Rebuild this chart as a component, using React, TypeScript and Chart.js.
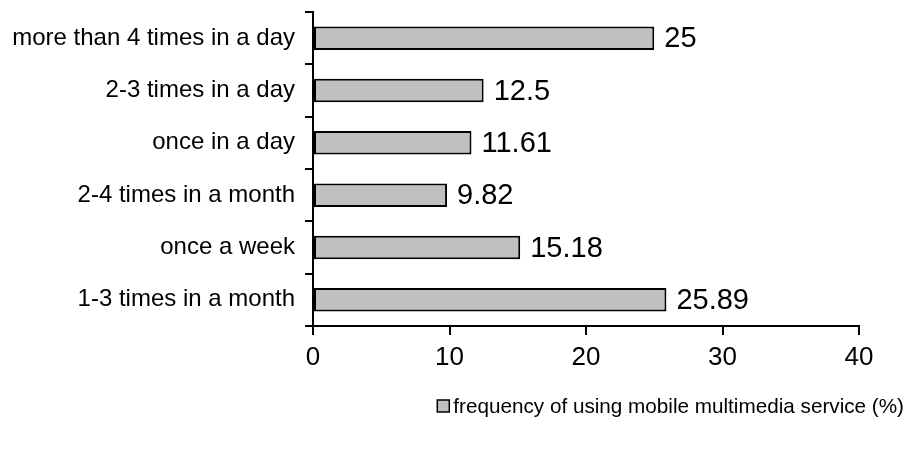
import React, { useEffect, useRef } from "react";
import { Chart, registerables } from "chart.js";

Chart.register(...registerables);

const categories = [
  "more than 4 times in a day",
  "2-3 times in a day",
  "once in a day",
  "2-4 times in a month",
  "once a week",
  "1-3 times in a month",
];
const values = [25, 12.5, 11.61, 9.82, 15.18, 25.89];
const valueLabels = ["25", "12.5", "11.61", "9.82", "15.18", "25.89"];
const seriesName = "frequency of using mobile multimedia service (%)";
const xMin = 0;
const xMax = 40;
const xStep = 10;

const FONT = "'Liberation Sans', Arial, Helvetica, sans-serif";

const dataLabelPlugin = {
  id: "dataLabels",
  afterDatasetsDraw(chart: any) {
    const ctx = chart.ctx;
    const meta = chart.getDatasetMeta(0);
    ctx.save();
    ctx.font = `29px ${FONT}`;
    ctx.fillStyle = "#000";
    ctx.textAlign = "left";
    ctx.textBaseline = "middle";
    meta.data.forEach((el: any, i: number) => {
      ctx.fillText(valueLabels[i], el.x + 10, el.y + 1);
    });
    ctx.restore();
  },
};

const legendPlugin = {
  id: "customLegend",
  afterDraw(chart: any) {
    const ctx = chart.ctx;
    const ds = chart.data.datasets[0];
    ctx.save();
    ctx.font = `20.7px ${FONT}`;
    ctx.textAlign = "right";
    ctx.textBaseline = "middle";
    const right = 904;
    const cy = 406;
    const w = ctx.measureText(ds.label).width;
    const textLeft = right - w;
    const box = 12;
    const bx = textLeft - box - 4;
    ctx.fillStyle = ds.backgroundColor;
    ctx.fillRect(bx, cy - box / 2, box, box);
    ctx.strokeStyle = "#000";
    ctx.lineWidth = 1.5;
    ctx.strokeRect(bx, cy - box / 2, box, box);
    ctx.fillStyle = "#000";
    ctx.fillText(ds.label, right, cy + 1);
    ctx.restore();
  },
};

export default function App() {
  const ref = useRef<HTMLCanvasElement | null>(null);
  useEffect(() => {
    if (!ref.current) return;
    const chart = new Chart(ref.current, {
      type: "bar",
      data: {
        labels: categories,
        datasets: [
          {
            label: seriesName,
            data: values,
            backgroundColor: "#c0c0c0",
            borderColor: "#000000",
            borderWidth: 2,
            borderSkipped: false,
            barPercentage: 0.45,
            categoryPercentage: 1,
          },
        ],
      },
      options: {
        indexAxis: "y",
        responsive: true,
        maintainAspectRatio: false,
        animation: false,
        layout: { padding: { top: 12, right: 62, left: 0, bottom: 0 } },
        plugins: {
          legend: { display: false },
          tooltip: { enabled: false },
        },
        scales: {
          x: {
            min: xMin,
            max: xMax,
            afterFit(scale: any) {
              scale.height = 128;
              scale.paddingLeft = 0;
              scale.paddingRight = 0;
            },
            ticks: {
              stepSize: xStep,
              color: "#000",
              font: { family: FONT, size: 26 },
              padding: 7,
              maxRotation: 0,
            },
            grid: {
              drawOnChartArea: false,
              drawTicks: true,
              tickLength: 9,
              color: "#000",
              lineWidth: 2,
            },
            border: { display: true, color: "#000", width: 2 },
          },
          y: {
            afterFit(scale: any) {
              scale.width = 313;
              scale.paddingTop = 0;
              scale.paddingBottom = 0;
            },
            ticks: {
              color: "#000",
              font: { family: FONT, size: 24 },
              padding: 10,
            },
            grid: {
              offset: true,
              drawOnChartArea: false,
              drawTicks: true,
              tickLength: 8,
              color: "#000",
              lineWidth: 2,
            },
            border: { display: true, color: "#000", width: 2 },
          },
        },
      },
      plugins: [dataLabelPlugin, legendPlugin],
    });
    return () => chart.destroy();
  }, []);

  return (
    <div style={{ position: "fixed", left: 0, top: 0, width: 921, height: 454, background: "#fff" }}>
      <canvas ref={ref} />
    </div>
  );
}
